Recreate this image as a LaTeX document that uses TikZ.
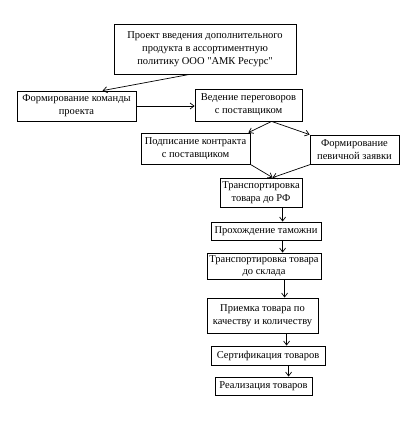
\documentclass[tikz,border=0pt]{standalone}
\usepackage{fontspec}
\setmainfont{Liberation Serif}[Ligatures=TeXOff]
\usetikzlibrary{arrows.meta}
\begin{document}
\begin{tikzpicture}[x=1pt,y=-1pt,
  blk/.style={draw,line width=0.8pt,inner sep=0pt,align=center,font=\fontsize{10.5}{12.8}\selectfont},
  arr/.style={line width=0.7pt,-{Straight Barb[length=4pt,width=6pt]}}]
\useasboundingbox (0,0) rectangle (417,421);
\newcommand{\bx}[6]{\node[blk,minimum width=#4-#2,minimum height=#5-#3] (#1) at ({(#2+#4)/2},{(#3+#5)/2}) {#6};}
\bx{b1}{114}{24}{296}{74}{Проект введения дополнительного\\продукта в ассортиментную\\политику ООО "АМК Ресурс"}
\bx{b2}{17}{91}{136}{121}{Формирование команды\\проекта}
\bx{b3}{195}{89}{302}{121}{Ведение переговоров\\с поставщиком}
\bx{b4}{141}{133}{250}{164}{Подписание контракта\\с поставщиком}
\bx{b5}{310}{135}{399}{164}{Формирование\\певичной заявки}
\bx{b6}{220}{178}{302}{207}{Транспортировка\\товара до РФ}
\bx{b7}{211}{222}{321}{240}{Прохождение таможни}
\bx{b8}{207}{253}{321}{279}{Транспортировка товара\\до склада}
\bx{b9}{207}{298}{318}{333}{Приемка товара по\\качеству и количеству}
\bx{b10}{211}{346}{325}{365}{Сертификация товаров}
\bx{b11}{215}{377}{312}{395}{Реализация товаров}
\coordinate (s1) at ([xshift=76pt]b1.south west);
\coordinate (t1) at ([xshift=86pt]b2.north west);
\draw[arr] (s1) -- (t1);
\draw[arr] (b2.east) -- (b2.east -| b3.west);
\coordinate (s3) at ([xshift=77pt]b3.south west);
\draw[arr] (s3) -- ([xshift=-2pt]b4.north east);
\draw[arr] (s3) -- (b5.north west);
\coordinate (t6) at ([xshift=53pt]b6.north west);
\draw[arr] (b4.south east) -- (t6);
\draw[arr] ([xshift=1pt]b5.south west) -- (t6);
\coordinate (s6) at ([xshift=63pt]b6.south west);
\draw[arr] (s6) -- (s6 |- b7.north);
\coordinate (s7) at ([xshift=72pt]b7.south west);
\draw[arr] (s7) -- (s7 |- b8.north);
\coordinate (s8) at ([xshift=78pt]b8.south west);
\draw[arr] (s8) -- (s8 |- b9.north);
\coordinate (s9) at ([xshift=80pt]b9.south west);
\draw[arr] (s9) -- (s9 |- b10.north);
\coordinate (s10) at ([xshift=78pt]b10.south west);
\draw[arr] (s10) -- (s10 |- b11.north);
\end{tikzpicture}
\end{document}
